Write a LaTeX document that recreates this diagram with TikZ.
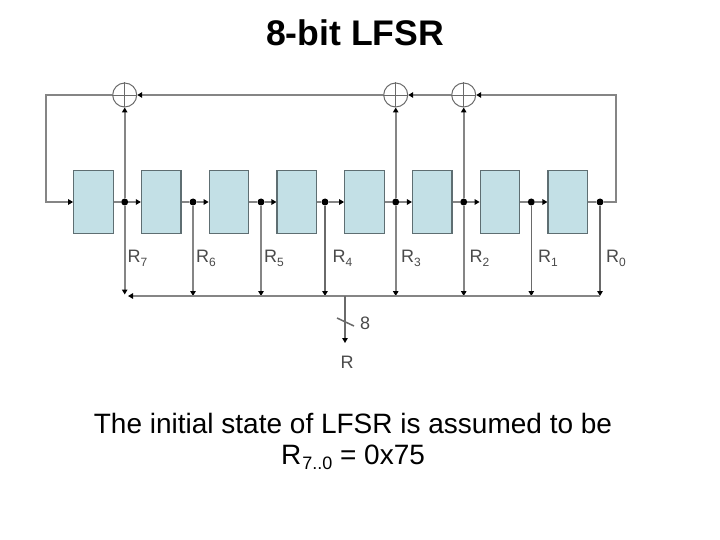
\documentclass[tikz,border=0pt]{standalone}
\usepackage{fontspec}
\setmainfont{Liberation Sans}
\usetikzlibrary{arrows.meta,backgrounds}
\definecolor{wire}{HTML}{858585}
\definecolor{wiredark}{HTML}{6A6A6A}
\definecolor{regfill}{HTML}{C3E0E6}
\definecolor{regedge}{HTML}{5E6E72}
\definecolor{lab}{HTML}{4A4A4A}
\tikzset{
  regbox/.style={draw=regedge,line width=1.2pt,fill=regfill,minimum width=39.5pt,minimum height=63.5pt,inner sep=0pt},
  tap/.style={circle,fill=black,inner sep=0pt,minimum size=7pt},
  xorc/.style={circle,draw=wiredark,line width=1pt,fill=white,minimum size=24pt,inner sep=0pt},
  wireline/.style={draw=wire,line width=1.6pt},
  thin wire/.style={draw=wiredark,line width=1.2pt},
  tip/.style={-{Triangle[length=5pt,width=5.5pt,color=black]}},
  reglabel/.style={text=lab,font=\fontsize{18}{18}\selectfont,anchor=west,inner sep=0pt},
  title text/.style={font=\fontsize{35.6}{36}\selectfont\bfseries,text=black,inner sep=0pt},
  body text/.style={font=\fontsize{28}{28}\selectfont,text=black,inner sep=0pt}
}
\newcommand{\regname}[1]{R\raisebox{-0.4ex}{\fontsize{12}{12}\selectfont #1}}
\begin{document}
\begin{tikzpicture}[x=1pt,y=-1pt]
\useasboundingbox (0,0) rectangle (720,540);
\node[title text] (title) at (355,33) {8-bit LFSR};
% registers
\node[regbox] (b7) at (93.5,202) {};
\node[regbox] (b6) at (161.2,202) {};
\node[regbox] (b5) at (229,202) {};
\node[regbox] (b4) at (296.8,202) {};
\node[regbox] (b3) at (364.5,202) {};
\node[regbox] (b2) at (432.3,202) {};
\node[regbox] (b1) at (500,202) {};
\node[regbox] (b0) at (567.8,202) {};
% taps
\node[tap] (t7) at (124.7,202) {};
\node[tap] (t6) at (193,202) {};
\node[tap] (t5) at (261,202) {};
\node[tap] (t4) at (325,202) {};
\node[tap] (t3) at (395.7,202) {};
\node[tap] (t2) at (463.7,202) {};
\node[tap] (t1) at (531.3,202) {};
\node[tap] (t0) at (600,202) {};
% xors
\node[xorc] (x7) at (124.7,95) {};
\node[xorc] (x3) at (395.7,95) {};
\node[xorc] (x2) at (463.7,95) {};
\draw[wiredark,line width=0.8pt] (x7.north) -- (x7.south) (x7.west) -- (x7.east);
\draw[wiredark,line width=0.8pt] (x3.north) -- (x3.south) (x3.west) -- (x3.east);
\draw[wiredark,line width=0.8pt] (x2.north) -- (x2.south) (x2.west) -- (x2.east);
% coordinates
\coordinate (cl1) at (46,95);
\coordinate (cl2) at (46,202);
\coordinate (cr1) at (616,95);
\coordinate (cr2) at (616,202);
\coordinate (bus0) at (600,296);
\coordinate (busend) at (128,296);
\coordinate (bus7) at (124.7,294.5);
\coordinate (bus6) at (193,296);
\coordinate (bus5) at (261,296);
\coordinate (bus4) at (325,296);
\coordinate (bus3) at (395.7,296);
\coordinate (bus2) at (463.7,296);
\coordinate (bus1) at (531.3,296);
\coordinate (busout) at (345,296);
\coordinate (rout) at (345,343);
\coordinate (sl1) at (337,318);
\coordinate (sl2) at (354,326);
\begin{scope}[on background layer]
\fill[white] (0,0) rectangle (720,540);
% shift path
\draw[wireline,tip] (x7.west) -- (cl1) -- (cl2) -- (b7.west);
\draw[wireline] (b7.east) -- (t7);
\draw[wireline,tip] (t7) -- (b6.west);
\draw[wireline] (b6.east) -- (t6);
\draw[wireline,tip] (t6) -- (b5.west);
\draw[wireline] (b5.east) -- (t5);
\draw[wireline,tip] (t5) -- (b4.west);
\draw[wireline] (b4.east) -- (t4);
\draw[wireline,tip] (t4) -- (b3.west);
\draw[wireline] (b3.east) -- (t3);
\draw[wireline,tip] (t3) -- (b2.west);
\draw[wireline] (b2.east) -- (t2);
\draw[wireline,tip] (t2) -- (b1.west);
\draw[wireline] (b1.east) -- (t1);
\draw[wireline,tip] (t1) -- (b0.west);
\draw[wireline] (b0.east) -- (t0);
% feedback
\draw[wireline,tip] (t0) -- (cr2) -- (cr1) -- (x2.east);
\draw[wireline,tip] (x2.west) -- (x3.east);
\draw[wireline,tip] (x3.west) -- (x7.east);
\draw[wireline,tip] (t7) -- (x7.south);
\draw[wireline,tip] (t3) -- (x3.south);
\draw[wireline,tip] (t2) -- (x2.south);
% outputs
\draw[wireline,tip] (t7) -- (bus7);
\draw[wireline,tip] (t6) -- (bus6);
\draw[wireline,tip] (t5) -- (bus5);
\draw[thin wire,tip] (t4) -- (bus4);
\draw[wireline,tip] (t3) -- (bus3);
\draw[wireline,tip] (t2) -- (bus2);
\draw[thin wire,tip] (t1) -- (bus1);
\draw[thin wire,tip] (t0) -- (bus0);
\draw[wireline,tip] (bus0) -- (busend);
\draw[thin wire,tip] (busout) -- (rout);
\draw[draw=wiredark,line width=1.5pt] (sl1) -- (sl2);
\end{scope}
% labels
\node[reglabel] (l7) at (127.5,258) {\regname{7}};
\node[reglabel] (l6) at (196,258) {\regname{6}};
\node[reglabel] (l5) at (264,258) {\regname{5}};
\node[reglabel] (l4) at (332.5,258) {\regname{4}};
\node[reglabel] (l3) at (401,258) {\regname{3}};
\node[reglabel] (l2) at (469.5,258) {\regname{2}};
\node[reglabel] (l1) at (538,258) {\regname{1}};
\node[reglabel] (l0) at (606,258) {\regname{0}};
\node[reglabel] (l8) at (360,323) {8};
\node[reglabel] (lr) at (340.5,362.5) {R};
% caption
\node[body text] (c1) at (353,423.5) {The initial state of LFSR is assumed to be};
\node[body text] (c2) at (353,457) {R\raisebox{-5pt}{\fontsize{18}{18}\selectfont\kern1pt 7..0} = 0x75};
\end{tikzpicture}
\end{document}
